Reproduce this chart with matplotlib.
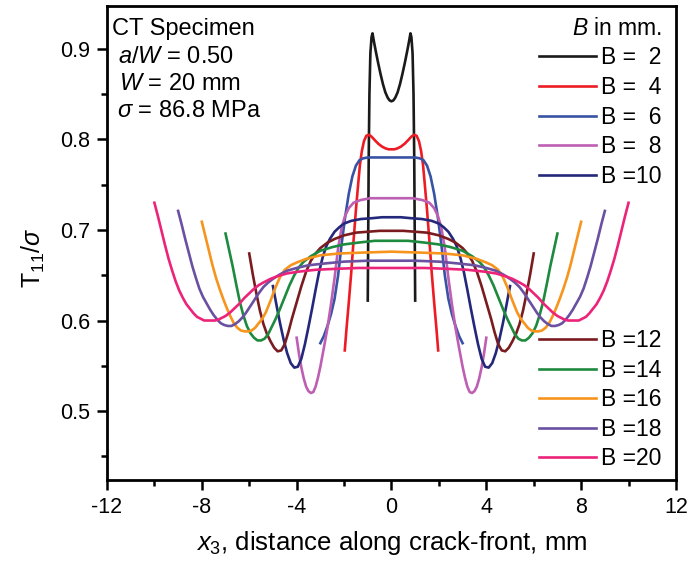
# Import Library

import matplotlib
matplotlib.use('Agg')
import matplotlib.pyplot as plt
from matplotlib.ticker import MultipleLocator

plt.rcParams['font.family'] = ['Liberation Sans', 'DejaVu Sans']
plt.rcParams['mathtext.fontset'] = 'custom'
plt.rcParams['mathtext.rm'] = 'Liberation Sans'
plt.rcParams['mathtext.it'] = 'Liberation Sans:italic'
plt.rcParams['axes.unicode_minus'] = False

# Specimen thickness values, mm
thickness = [2, 4, 6, 8, 10, 12, 14, 16, 18, 20]

# Left half of every curve (x3 from -B/2 to 0).
# The curves are symmetric about x3 = 0, the right half is the mirror.
x_b2 = [-1.0, -0.98, -0.96, -0.93, -0.89, -0.84, -0.80, -0.74, -0.66, -0.56, -0.46, -0.36, -0.26, -0.16, -0.08, 0.0]
t_b2 = [0.622, 0.70, 0.78, 0.85, 0.895, 0.913, 0.917, 0.908, 0.897, 0.884, 0.872, 0.861, 0.852, 0.846, 0.843, 0.842]

x_b4 = [-1.97, -1.9, -1.8, -1.7, -1.6, -1.5, -1.4, -1.33, -1.25, -1.16, -1.06, -0.95, -0.84, -0.70, -0.55, -0.40, -0.25, -0.12, 0.0]
t_b4 = [0.567, 0.590, 0.620, 0.652, 0.688, 0.722, 0.752, 0.772, 0.787, 0.798, 0.804, 0.805, 0.803, 0.799, 0.795, 0.792, 0.790, 0.789, 0.789]

x_b6 = [-3.0, -2.85, -2.7, -2.55, -2.4, -2.25, -2.1, -1.95, -1.8, -1.65, -1.5, -1.35, -1.2, -1.0, -0.7, -0.35, 0.0]
t_b6 = [0.575, 0.583, 0.594, 0.607, 0.624, 0.650, 0.685, 0.715, 0.740, 0.759, 0.771, 0.777, 0.779, 0.780, 0.780, 0.780, 0.780]

x_b8 = [-4.0, -3.9, -3.8, -3.7, -3.6, -3.5, -3.4, -3.3, -3.2, -3.1, -3.0, -2.85, -2.7, -2.55, -2.4, -2.25, -2.1, -1.95, -1.8, -1.6, -1.3, -0.9, -0.45, 0.0]
t_b8 = [0.581, 0.563, 0.548, 0.536, 0.527, 0.522, 0.520, 0.521, 0.527, 0.537, 0.549, 0.570, 0.592, 0.618, 0.647, 0.680, 0.703, 0.716, 0.724, 0.730, 0.733, 0.735, 0.735, 0.735]

x_b10 = [-5.0, -4.85, -4.7, -4.55, -4.4, -4.25, -4.1, -3.95, -3.8, -3.65, -3.5, -3.35, -3.2, -3.05, -2.9, -2.75, -2.6, -2.4, -2.2, -2.0, -1.7, -1.3, -0.8, -0.4, 0.0]
t_b10 = [0.638, 0.617, 0.597, 0.579, 0.564, 0.553, 0.548, 0.549, 0.558, 0.574, 0.593, 0.613, 0.634, 0.654, 0.670, 0.682, 0.690, 0.698, 0.703, 0.707, 0.710, 0.712, 0.713, 0.714, 0.714]

x_b12 = [-6.0, -5.85, -5.7, -5.55, -5.4, -5.25, -5.1, -4.95, -4.8, -4.65, -4.5, -4.35, -4.2, -4.0, -3.8, -3.6, -3.4, -3.2, -3.0, -2.7, -2.4, -2.0, -1.5, -1.0, -0.5, 0.0]
t_b12 = [0.674, 0.651, 0.630, 0.611, 0.596, 0.585, 0.577, 0.570, 0.566, 0.567, 0.574, 0.587, 0.602, 0.620, 0.638, 0.654, 0.666, 0.674, 0.680, 0.686, 0.690, 0.694, 0.697, 0.698, 0.699, 0.699]

x_b14 = [-7.0, -6.85, -6.7, -6.55, -6.4, -6.25, -6.1, -5.95, -5.8, -5.65, -5.5, -5.35, -5.2, -5.05, -4.9, -4.7, -4.5, -4.3, -4.1, -3.9, -3.7, -3.4, -3.0, -2.5, -2.0, -1.4, -0.7, 0.0]
t_b14 = [0.696, 0.678, 0.660, 0.640, 0.621, 0.606, 0.594, 0.586, 0.581, 0.578, 0.578, 0.580, 0.585, 0.593, 0.601, 0.613, 0.626, 0.639, 0.650, 0.659, 0.665, 0.671, 0.677, 0.681, 0.684, 0.686, 0.688, 0.688]

x_b16 = [-8.0, -7.85, -7.7, -7.55, -7.4, -7.25, -7.1, -6.95, -6.8, -6.65, -6.5, -6.35, -6.2, -6.05, -5.9, -5.75, -5.6, -5.45, -5.3, -5.1, -4.9, -4.7, -4.5, -4.25, -4.0, -3.6, -3.0, -2.2, -1.2, 0.0]
t_b16 = [0.709, 0.693, 0.677, 0.661, 0.647, 0.635, 0.624, 0.614, 0.605, 0.597, 0.592, 0.589, 0.588, 0.588, 0.589, 0.592, 0.597, 0.602, 0.609, 0.622, 0.636, 0.648, 0.656, 0.661, 0.664, 0.668, 0.672, 0.674, 0.675, 0.676]

x_b18 = [-9.0, -8.85, -8.7, -8.55, -8.4, -8.25, -8.1, -7.95, -7.8, -7.65, -7.5, -7.35, -7.2, -7.05, -6.9, -6.75, -6.6, -6.45, -6.3, -6.15, -6.0, -5.8, -5.6, -5.4, -5.2, -5.0, -4.7, -4.4, -4.0, -3.5, -2.8, -2.0, -1.0, 0.0]
t_b18 = [0.721, 0.706, 0.690, 0.675, 0.660, 0.647, 0.635, 0.626, 0.619, 0.612, 0.606, 0.601, 0.597, 0.595, 0.594, 0.594, 0.596, 0.599, 0.603, 0.608, 0.614, 0.622, 0.630, 0.637, 0.642, 0.646, 0.651, 0.655, 0.658, 0.661, 0.663, 0.665, 0.666, 0.666]

x_b20 = [-10.0, -9.85, -9.7, -9.55, -9.4, -9.25, -9.1, -8.95, -8.8, -8.65, -8.5, -8.35, -8.2, -8.05, -7.9, -7.75, -7.6, -7.45, -7.3, -7.15, -7.0, -6.8, -6.6, -6.4, -6.2, -6.0, -5.8, -5.6, -5.4, -5.1, -4.8, -4.4, -3.9, -3.2, -2.4, -1.4, 0.0]
t_b20 = [0.730, 0.715, 0.699, 0.683, 0.668, 0.655, 0.643, 0.633, 0.625, 0.618, 0.613, 0.608, 0.604, 0.602, 0.600, 0.600, 0.600, 0.600, 0.601, 0.603, 0.605, 0.609, 0.614, 0.619, 0.625, 0.630, 0.635, 0.639, 0.642, 0.646, 0.649, 0.652, 0.654, 0.656, 0.657, 0.658, 0.658]

half_x = [x_b2, x_b4, x_b6, x_b8, x_b10, x_b12, x_b14, x_b16, x_b18, x_b20]
half_t = [t_b2, t_b4, t_b6, t_b8, t_b10, t_b12, t_b14, t_b16, t_b18, t_b20]

colors = ['#1a1a1a', '#ed1c24', '#3953a4', '#bd5fb3', '#24287a',
          '#7a1c1f', '#1e8a3e', '#f7941d', '#6950a1', '#ec2479']

labels = ['B =  %d' % b if b < 10 else 'B =%d' % b for b in thickness]

# Figure setup
fig = plt.figure(figsize=(6.88, 5.62), dpi=100)
ax = fig.add_axes([0.1555, 0.146, 0.827, 0.843])

lines = []
for xs, ts, c, lab in zip(half_x, half_t, colors, labels):
    # mirror the left half to get the whole crack-front
    x_full = xs + [-v for v in reversed(xs[:-1])]
    t_full = ts + list(reversed(ts[:-1]))
    ln, = ax.plot(x_full, t_full, color=c, lw=1.9, label=lab)
    lines.append(ln)

ax.set_xlim(-12, 12)
ax.set_ylim(0.424, 0.947)
ax.xaxis.set_major_locator(MultipleLocator(4))
ax.xaxis.set_minor_locator(MultipleLocator(2))
ax.yaxis.set_major_locator(MultipleLocator(0.1))
ax.yaxis.set_minor_locator(MultipleLocator(0.05))
ax.tick_params(which='both', direction='out', width=1.8, labelsize=15.5,
               top=False, right=False)
ax.tick_params(which='major', length=7, pad=5)
ax.tick_params(which='minor', length=4)
for sp in ax.spines.values():
    sp.set_linewidth(2)

ax.set_xlabel('$x_{\\mathit{3}}$, distance along crack-front, mm', fontsize=18.5, labelpad=8)
ax.set_ylabel('T$_{11}$/$\\sigma$', fontsize=18)
ax.yaxis.set_label_coords(-0.105, 0.47)

# Specimen info
ax.text(0.009, 0.939, 'CT Specimen', transform=ax.transAxes, fontsize=17, va='baseline')
ax.text(0.019, 0.880, '$a/W$ = 0.50', transform=ax.transAxes, fontsize=17, va='baseline')
ax.text(0.021, 0.823, '$W$ = 20 mm', transform=ax.transAxes, fontsize=17, va='baseline')
ax.text(0.018, 0.766, '$\\sigma$ = 86.8 MPa', transform=ax.transAxes, fontsize=17, va='baseline')

# Two legend groups
leg1 = ax.legend(handles=lines[:5], title='$B$ in mm.', loc='upper right',
                 bbox_to_anchor=(0.975, 0.978), borderaxespad=0, borderpad=0,
                 frameon=False, fontsize=16.5, title_fontsize=16.5, handlelength=2.45,
                 handletextpad=0.25, labelspacing=0.29, alignment='right')
ax.add_artist(leg1)
ax.legend(handles=lines[5:], loc='lower right', bbox_to_anchor=(0.975, 0.02),
          borderaxespad=0, borderpad=0, frameon=False, fontsize=16.5,
          handlelength=2.45, handletextpad=0.25, labelspacing=0.29)

fig.savefig('out.png', dpi=100)
